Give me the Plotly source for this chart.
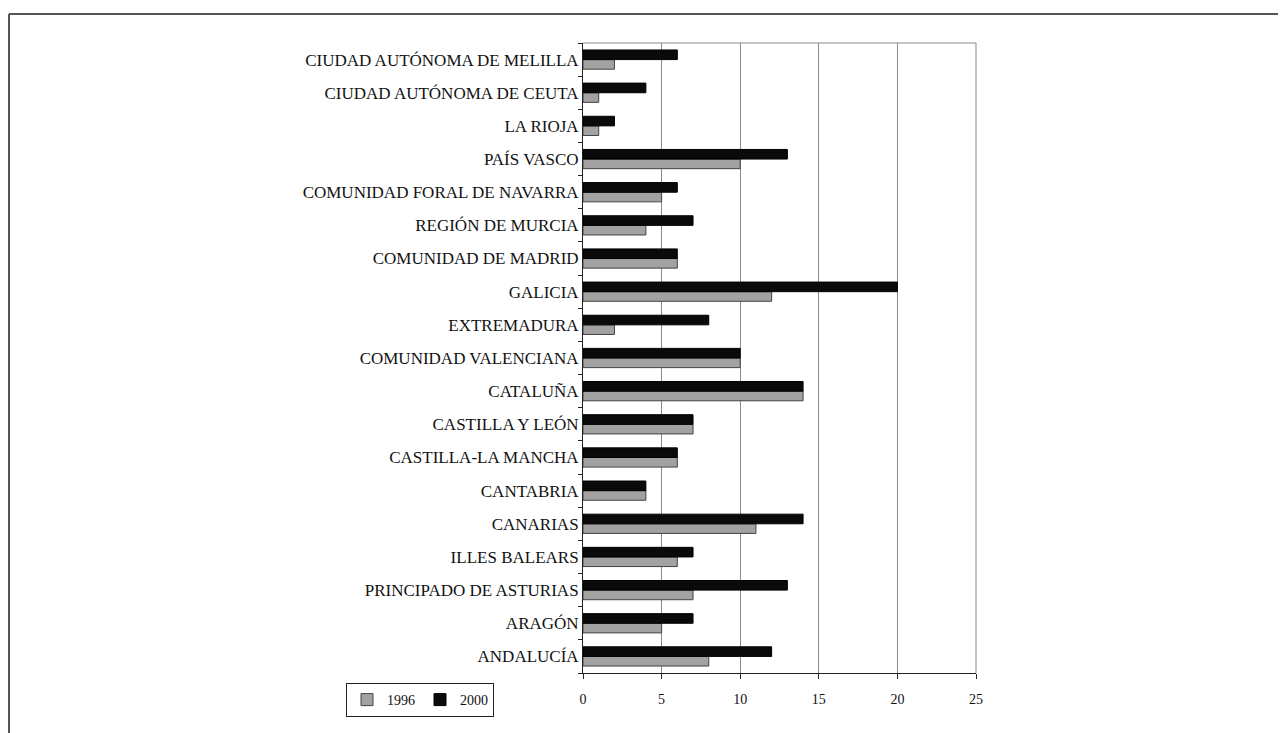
import plotly.graph_objects as go

categories = [
    "ANDALUCÍA", "ARAGÓN", "PRINCIPADO DE ASTURIAS", "ILLES BALEARS", "CANARIAS",
    "CANTABRIA", "CASTILLA-LA MANCHA", "CASTILLA Y LEÓN", "CATALUÑA",
    "COMUNIDAD VALENCIANA", "EXTREMADURA", "GALICIA", "COMUNIDAD DE MADRID",
    "REGIÓN DE MURCIA", "COMUNIDAD FORAL DE NAVARRA", "PAÍS VASCO", "LA RIOJA",
    "CIUDAD AUTÓNOMA DE CEUTA", "CIUDAD AUTÓNOMA DE MELILLA",
]
values_1996 = [8, 5, 7, 6, 11, 4, 6, 7, 14, 10, 2, 12, 6, 4, 5, 10, 1, 1, 2]
values_2000 = [12, 7, 13, 7, 14, 4, 6, 7, 14, 10, 8, 20, 6, 7, 6, 13, 2, 4, 6]
x_ticks = [0, 5, 10, 15, 20, 25]

# page body adds an 8px offset; work in screen coordinates and shift
OFF = 8
W, H = 1286 - OFF, 733 - OFF
L, R, T, B = 583 - OFF, 976 - OFF, 43 - OFF, 673 - OFF
pw, ph = R - L, B - T


def px(x_screen):
    return (x_screen - OFF - L) / pw


def py(y_screen):
    return (B - (y_screen - OFF)) / ph


fig = go.Figure()
fig.add_trace(go.Bar(
    y=categories, x=values_1996, name="1996", orientation="h",
    marker=dict(color="#a2a2a2", line=dict(color="#444444", width=1)),
))
fig.add_trace(go.Bar(
    y=categories, x=values_2000, name="2000", orientation="h",
    marker=dict(color="#0a0a0a", line=dict(color="#000000", width=1)),
))

serif = "Liberation Serif, Times New Roman, serif"

fig.update_layout(
    width=W, height=H,
    margin=dict(l=L, r=W - R, t=T, b=H - B),
    paper_bgcolor="white", plot_bgcolor="white",
    barmode="group", bargap=0.42, bargroupgap=0,
    font=dict(family=serif, size=13, color="#111111"),
    showlegend=True,
    legend=dict(
        orientation="h", x=px(346), y=py(683), xanchor="left", yanchor="top",
        bordercolor="#222222", borderwidth=1, bgcolor="white",
        font=dict(family=serif, size=14, color="#111111"),
        itemwidth=30, traceorder="normal",
    ),
    xaxis=dict(
        range=[0, 25], tickvals=x_ticks, ticktext=[str(v) for v in x_ticks],
        showgrid=True, gridcolor="#8a8a8a", gridwidth=1,
        showline=True, linecolor="#222222", linewidth=1,
        ticks="outside", ticklen=5, tickcolor="#222222",
        ticklabelstandoff=8,
        zeroline=False, fixedrange=True,
        tickfont=dict(family=serif, size=14, color="#111111"),
    ),
    yaxis=dict(
        type="category", categoryorder="array", categoryarray=categories,
        showline=True, linecolor="#222222", linewidth=1,
        ticks="outside", ticklen=4, tickcolor="#222222", tickson="boundaries",
        showgrid=False, fixedrange=True,
        tickfont=dict(family=serif, size=17, color="#111111"),
    ),
)

# plot-area border (top and right) and outer frame
fig.add_shape(type="line", xref="paper", yref="paper", x0=0, x1=1, y0=1, y1=1,
              line=dict(color="#8a8a8a", width=1))
fig.add_shape(type="line", xref="paper", yref="paper", x0=1, x1=1, y0=0, y1=1,
              line=dict(color="#8a8a8a", width=1))
fig.add_shape(type="line", xref="paper", yref="paper", x0=px(9), x1=px(9),
              y0=py(745), y1=py(14), line=dict(color="#555555", width=2))
fig.add_shape(type="line", xref="paper", yref="paper", x0=px(9), x1=px(1300),
              y0=py(14), y1=py(14), line=dict(color="#555555", width=2))

fig.write_html("out.html")
